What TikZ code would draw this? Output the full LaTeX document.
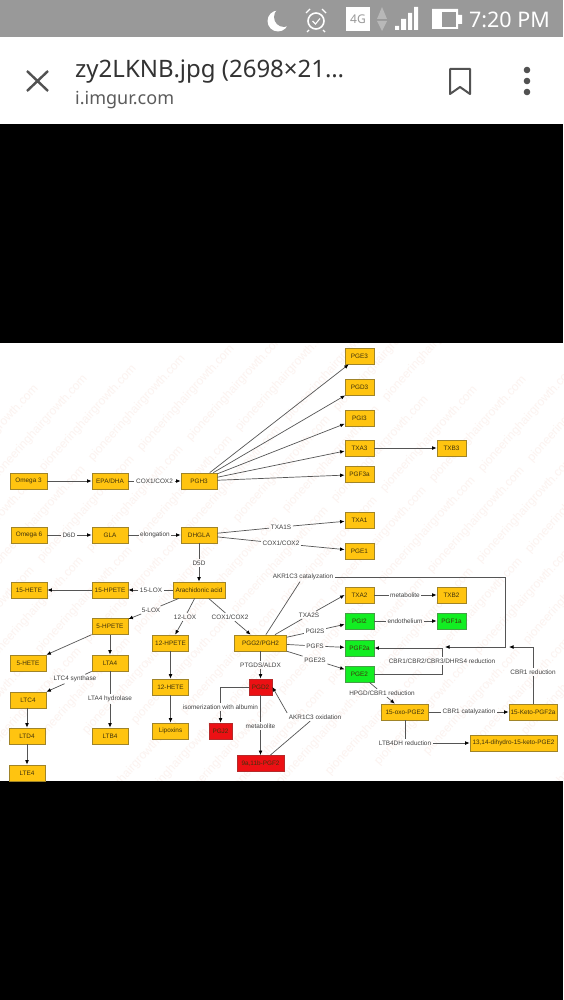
\documentclass[tikz,border=0pt]{standalone}
\usepackage{xcolor}
\usepackage{fontspec}
\setmainfont{Liberation Sans}
\newfontfamily\phonefont{Noto Sans}
\usetikzlibrary{arrows.meta}
\definecolor{barbg}{HTML}{999999}
\definecolor{boxyellow}{HTML}{FFC410}
\definecolor{edgeyellow}{HTML}{A08428}
\definecolor{boxgreen}{HTML}{12EE22}
\definecolor{edgegreen}{HTML}{45A045}
\definecolor{boxred}{HTML}{EC1014}
\definecolor{edgered}{HTML}{B52A2A}
\definecolor{linegray}{HTML}{555555}
\definecolor{labelgray}{HTML}{404040}
\definecolor{boxtext}{HTML}{40320C}
\definecolor{wmcolor}{HTML}{FCF3F0}
\definecolor{phonetext}{HTML}{333333}
\tikzset{
  yellowbox/.style={draw=edgeyellow, fill=boxyellow, line width=.8pt, inner sep=0pt, minimum height=16pt, text=boxtext, font=\fontsize{6.4}{7}\selectfont},
  greenbox/.style={yellowbox, draw=edgegreen, fill=boxgreen},
  redbox/.style={yellowbox, draw=edgered, fill=boxred},
  lbl/.style={inner sep=1.5pt, text=labelgray, font=\fontsize{6.4}{7}\selectfont},
  link/.style={draw=linegray, line width=.7pt},
  arr/.style={link, -{Latex[length=4.5pt,width=3.8pt,color=black]}},
  wmtext/.style={text=wmcolor, rotate=48, inner sep=0pt, font=\fontsize{12}{12}\selectfont}
}
\begin{document}
\begin{tikzpicture}[x=1pt, y=-1pt]
  \useasboundingbox (0,0) rectangle (563,1000);
  \fill[black] (0,0) rectangle (563,1000);
  \fill[barbg] (0,0) rectangle (563,37.5);
  \fill[white] (0,37.5) rectangle (563,124.5);
  \fill[white] (0,343) rectangle (563,781);

  % status bar
  \fill[white] (278,21) circle (10.5);
  \fill[barbg] (284,17) circle (10);
  \draw[white, line width=1.6pt] (316,21) circle (8);
  \draw[white, line width=1.4pt] (306,13) -- (310,9) (322,9) -- (326,13) (309,30) -- (307,32) (323,30) -- (325,32);
  \draw[white, line width=1.1pt] (312.5,21) -- (315.5,24) -- (320,18.5);
  \node[fill=white, text=barbg, minimum width=24pt, minimum height=24pt, inner sep=0pt, font=\phonefont\bfseries\fontsize{12}{12}\selectfont] (fourg) at (358,19) {4G};
  \fill[barbg!70!white] (382,7) -- (387,19) -- (377,19) -- cycle (382,31) -- (387,21) -- (377,21) -- cycle;
  \fill[white] (395,26) rectangle (399,30) (401,19) rectangle (406,30) (408,13) rectangle (412,30) (414,7) rectangle (418,30);
  \fill[white] (432,9) rectangle (458,29) (458,15) rectangle (462,24);
  \fill[barbg] (442,12) rectangle (456,27);
  \node[anchor=base east, text=white, inner sep=0pt, font=\phonefont\fontsize{21.5}{22}\selectfont] (clock) at (550,28) {7:20 PM};

  % title bar
  \draw[phonetext!85!white, line width=2.4pt] (27,71) -- (48,91) (48,71) -- (27,91);
  \node[anchor=base west, text=phonetext, inner sep=0pt, font=\phonefont\fontsize{24}{24}\selectfont] (title) at (75,78) {zy2LKNB.jpg (2698×21…};
  \node[anchor=base west, text=phonetext!80!white, inner sep=0pt, font=\phonefont\fontsize{18}{18}\selectfont] (site) at (75,105) {i.imgur.com};
  \draw[phonetext!85!white, line width=2pt, line join=round] (450,69) -- (470,69) -- (470,94) -- (460,87) -- (450,94) -- cycle;
  \fill[phonetext!85!white] (527,70) circle (3.3) (527,81) circle (3.3) (527,92) circle (3.3);

  % watermark
  \begin{scope}
    \clip (0,343) rectangle (563,781);
    \foreach \r in {-13,...,13}
      \foreach \c in {-6,...,6} {
        \pgfmathsetmacro\wmx{280+\c*100+\r*49}
        \pgfmathsetmacro\wmy{560-\c*111-\r*10}
        \pgfmathtruncatemacro\inside{and(and(\wmx>-20,\wmx<583),and(\wmy>343,\wmy<781))}
        \ifnum\inside=1
          \node[wmtext] (wm\r-\c) at (\wmx,\wmy) {pioneeringhairgrowth.com};
        \fi
      }
  \end{scope}
  \fill[black] (0,781) rectangle (563,800);

  % omega 3 side
  \node[yellowbox, minimum width=37pt] (omegathree) at (28.5,481) {Omega 3};
  \node[yellowbox, minimum width=36pt] (epa) at (110,481) {EPA/DHA};
  \node[yellowbox, minimum width=36pt] (pgh3) at (199,481) {PGH3};
  \node[yellowbox, minimum width=29pt] (pge3) at (359.5,356) {PGE3};
  \node[yellowbox, minimum width=29pt] (pgd3) at (359.5,387) {PGD3};
  \node[yellowbox, minimum width=29pt] (pgi3) at (359.5,418) {PGI3};
  \node[yellowbox, minimum width=29pt] (txa3) at (359.5,448) {TXA3};
  \node[yellowbox, minimum width=29pt] (txb3) at (451.5,448) {TXB3};
  \node[yellowbox, minimum width=29pt] (pgf3a) at (359.5,474.5) {PGF3a};

  % omega 6 side
  \node[yellowbox, minimum width=36pt] (omegasix) at (29,535) {Omega 6};
  \node[yellowbox, minimum width=36pt] (gla) at (110,535) {GLA};
  \node[yellowbox, minimum width=36pt] (dhgla) at (199,535) {DHGLA};
  \node[yellowbox, minimum width=29pt] (txa1) at (359.5,520) {TXA1};
  \node[yellowbox, minimum width=29pt] (pge1) at (359.5,551) {PGE1};
  \node[yellowbox, minimum width=52pt] (aa) at (199,590) {Arachidonic acid};
  \node[yellowbox, minimum width=36pt] (hete15) at (29,590) {15-HETE};
  \node[yellowbox, minimum width=36pt] (hpete15) at (110,590) {15-HPETE};
  \node[yellowbox, minimum width=36pt] (hpete5) at (110,626.5) {5-HPETE};
  \node[yellowbox, minimum width=36pt] (hete5) at (28,663) {5-HETE};
  \node[yellowbox, minimum width=36pt] (lta4) at (110,663) {LTA4};
  \node[yellowbox, minimum width=36pt] (ltc4) at (28,700) {LTC4};
  \node[yellowbox, minimum width=36pt] (ltd4) at (27,736) {LTD4};
  \node[yellowbox, minimum width=36pt] (lte4) at (27,773) {LTE4};
  \node[yellowbox, minimum width=36pt] (ltb4) at (110,736) {LTB4};
  \node[yellowbox, minimum width=36pt] (hpete12) at (170.5,643) {12-HPETE};
  \node[yellowbox, minimum width=36pt] (hete12) at (170.5,687) {12-HETE};
  \node[yellowbox, minimum width=36pt] (lipoxins) at (170.5,731) {Lipoxins};
  \node[yellowbox, minimum width=52pt] (pgg2) at (260.5,643) {PGG2/PGH2};
  \node[redbox, minimum width=23pt] (pgd2) at (260.5,687) {PGD2};
  \node[redbox, minimum width=23pt] (pgj2) at (220.5,731) {PGJ2};
  \node[redbox, minimum width=47pt] (pgf2ab) at (260.5,763.5) {9a,11b-PGF2};
  \node[yellowbox, minimum width=29pt] (txa2) at (359.5,595) {TXA2};
  \node[yellowbox, minimum width=29pt] (txb2) at (451.5,595) {TXB2};
  \node[greenbox, minimum width=29pt] (pgi2) at (359.5,621) {PGI2};
  \node[greenbox, minimum width=29pt] (pgf1a) at (451.5,621) {PGF1a};
  \node[greenbox, minimum width=29pt] (pgf2a) at (359.5,648) {PGF2a};
  \node[greenbox, minimum width=29pt] (pge2) at (359.5,674) {PGE2};
  \node[yellowbox, minimum width=47pt] (oxo) at (405,712) {15-oxo-PGE2};
  \node[yellowbox, minimum width=48pt] (keto) at (533,712) {15-Keto-PGF2a};
  \node[yellowbox, minimum width=87pt] (dihydro) at (513.5,743) {13,14-dihydro-15-keto-PGE2};

  % labels on the connectors
  \node[lbl] (coxa) at (154.5,481) {COX1/COX2};
  \node[lbl] (dsixd) at (69,535) {D6D};
  \node[lbl] (elong) at (155,535) {elongation};
  \node[lbl] (txas) at (281,527) {TXA1S};
  \node[lbl] (coxb) at (281,543.5) {COX1/COX2};
  \node[lbl] (dsd) at (199,563) {D5D};
  \node[lbl] (loxfifteen) at (151,590) {15-LOX};
  \node[lbl] (loxfive) at (151,610) {5-LOX};
  \node[lbl] (loxtwelve) at (185,617) {12-LOX};
  \node[lbl] (coxc) at (230,617) {COX1/COX2};
  \node[lbl] (akrcat) at (303,577) {AKR1C3 catalyzation};
  \node[lbl] (ptgds) at (260.5,665) {PTGDS/ALDX};
  \node[lbl] (ltcsyn) at (75,679) {LTC4 synthase};
  \node[lbl] (ltahyd) at (110,699) {LTA4 hydrolase};
  \node[lbl] (iso) at (220.5,707) {isomerization with albumin};
  \node[lbl] (metab) at (260.5,726) {metabolite};
  \node[lbl] (akrox) at (315,717) {AKR1C3 oxidation};
  \node[lbl] (txasyn) at (309,615) {TXA2S};
  \node[lbl] (pgisyn) at (315,631) {PGI2S};
  \node[lbl] (pgfs) at (315,646) {PGFS};
  \node[lbl] (pgesyn) at (315,660) {PGE2S};
  \node[lbl] (metabtx) at (405,595) {metabolite};
  \node[lbl] (endo) at (405,621) {endothelium};
  \node[lbl] (cbrred) at (442,661) {CBR1/CBR2/CBR3/DHRS4 reduction};
  \node[lbl] (cbrone) at (533,672) {CBR1 reduction};
  \node[lbl] (hpgd) at (382,693) {HPGD/CBR1 reduction};
  \node[lbl] (cbrcat) at (469,712) {CBR1 catalyzation};
  \node[lbl] (ltbdh) at (405,743) {LTB4DH reduction};

  % free ends
  \coordinate (corner) at (505,647);
  \coordinate (akrend) at (445,647);
  \coordinate (cbrend) at (509,647);

  \draw[arr] (omegathree) -- (epa);
  \draw[link] (epa) -- (coxa);
  \draw[arr] (coxa) -- (pgh3);
  \draw[arr] (pgh3) -- (pge3);
  \draw[arr] (pgh3) -- (pgd3);
  \draw[arr] (pgh3) -- (pgi3);
  \draw[arr] (pgh3) -- (txa3);
  \draw[arr] (pgh3) -- (pgf3a);
  \draw[arr] (txa3) -- (txb3);

  \draw[link] (omegasix) -- (dsixd);
  \draw[arr] (dsixd) -- (gla);
  \draw[link] (gla) -- (elong);
  \draw[arr] (elong) -- (dhgla);
  \draw[link] (dhgla) -- (txas);
  \draw[arr] (txas) -- (txa1);
  \draw[link] (dhgla) -- (coxb);
  \draw[arr] (coxb) -- (pge1);
  \draw[link] (dhgla) -- (dsd);
  \draw[arr] (dsd) -- (aa);

  \draw[link] (aa) -- (loxfifteen);
  \draw[arr] (loxfifteen) -- (hpete15);
  \draw[arr] (hpete15) -- (hete15);
  \draw[link] (aa) -- (loxfive);
  \draw[arr] (loxfive) -- (hpete5);
  \draw[arr] (hpete5) -- (hete5);
  \draw[arr] (hpete5) -- (lta4);
  \draw[link] (lta4) -- (ltcsyn);
  \draw[arr] (ltcsyn) -- (ltc4);
  \draw[arr] (ltc4.south -| ltd4) -- (ltd4);
  \draw[arr] (ltd4) -- (lte4);
  \draw[link] (lta4) -- (ltahyd);
  \draw[arr] (ltahyd) -- (ltb4);
  \draw[link] (aa) -- (loxtwelve);
  \draw[arr] (loxtwelve) -- (hpete12);
  \draw[arr] (hpete12) -- (hete12);
  \draw[arr] (hete12) -- (lipoxins);
  \draw[link] (aa) -- (coxc);
  \draw[arr] (coxc) -- (pgg2);

  \draw[link] (pgg2) -- (ptgds);
  \draw[arr] (ptgds) -- (pgd2);
  \draw[link] (pgd2.west) -| (iso.north);
  \draw[arr] (iso) -- (pgj2);
  \draw[link] (pgd2) -- (metab);
  \draw[arr] (metab) -- (pgf2ab);
  \draw[link] (pgf2ab) -- (akrox);
  \draw[arr] (akrox.north west) -- (pgd2.east);

  \draw[link] (pgg2) -- (akrcat);
  \draw[arr] (akrcat.east) -| (corner) -- (akrend);
  \draw[link] (pgg2) -- (txasyn);
  \draw[arr] (txasyn) -- (txa2.west);
  \draw[link] (pgg2) -- (pgisyn);
  \draw[arr] (pgisyn) -- (pgi2);
  \draw[link] (pgg2) -- (pgfs);
  \draw[arr] (pgfs) -- (pgf2a);
  \draw[link] (pgg2) -- (pgesyn);
  \draw[arr] (pgesyn) -- (pge2);

  \draw[link] (txa2) -- (metabtx);
  \draw[arr] (metabtx) -- (txb2);
  \draw[link] (pgi2) -- (endo);
  \draw[arr] (endo) -- (pgf1a);
  \draw[link] (pge2.east) -| (cbrred.south);
  \draw[arr] (cbrred.north) |- (pgf2a.east);
  \draw[link] (pge2) -- (hpgd);
  \draw[arr] (hpgd) -- (oxo);
  \draw[link] (oxo) -- (cbrcat);
  \draw[arr] (cbrcat) -- (keto);
  \draw[link] (oxo) -- (ltbdh);
  \draw[arr] (ltbdh) -- (dihydro);
  \draw[link] (keto) -- (cbrone);
  \draw[arr] (cbrone.north) |- (cbrend);
\end{tikzpicture}
\end{document}
